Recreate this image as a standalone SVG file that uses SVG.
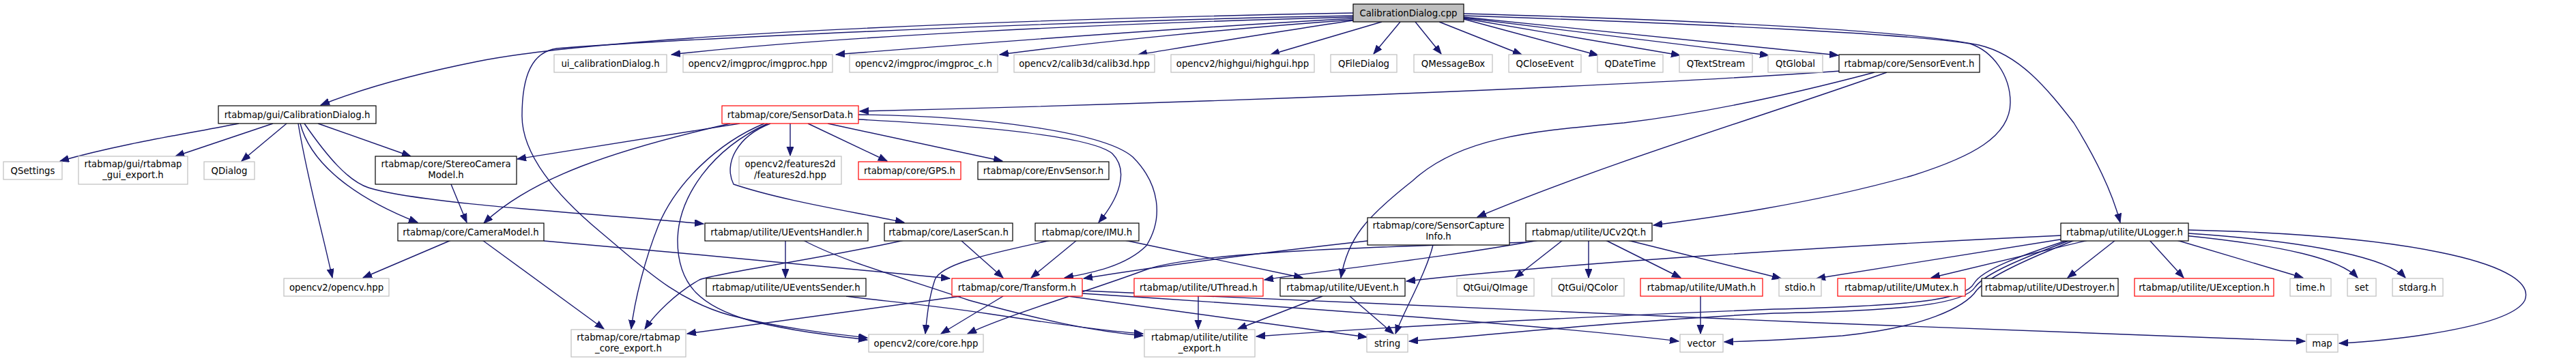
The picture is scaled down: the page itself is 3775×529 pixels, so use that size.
<svg xmlns="http://www.w3.org/2000/svg" width="3775" height="529" viewBox="0 0 3775 529">
<style>
rect{fill:#fff;stroke-width:1.2}
.g rect{stroke:#bfbfbf}
.b rect{stroke:#000}
.r rect{stroke:#ff0000}
.root rect{fill:#bfbfbf;stroke:#000}
text{font-family:"DejaVu Sans","Liberation Sans",sans-serif;font-size:13.3px;text-anchor:middle;fill:#000}
#edges path{fill:none;stroke:#191970;stroke-width:1.4;marker-end:url(#ah)}
</style>
<defs>
<marker id="ah" markerUnits="userSpaceOnUse" markerWidth="14" markerHeight="11" refX="13" refY="5" orient="auto">
<path d="M0,0 L13,5 L0,10 z" fill="#191970" stroke="#191970" stroke-width="1"/>
</marker>
</defs>
<rect x="0" y="0" width="3775" height="529" style="fill:#fff;stroke:none"/>
<g id="edges">
<path d="M1983,19 C1500,28 900,50 700,90 C600,110 530,130 470,154"/>
<path d="M1983,23 C1500,32 950,60 816,71 C780,76 765,110 765,170 C765,230 820,290 880,340 C940,390 990,440 1070,462 C1140,480 1210,488 1271,495"/>
<path d="M1983,25 C1600,35 1200,55 984,80"/>
<path d="M1983,27 C1750,40 1450,62 1225,80"/>
<path d="M1983,29 C1800,42 1600,62 1465,80"/>
<path d="M1983,30 C1880,45 1760,65 1668,80"/>
<path d="M2025,32 L1862,80"/>
<path d="M2052,32 L2013,79"/>
<path d="M2074,32 L2112,79"/>
<path d="M2109,32 L2230,80"/>
<path d="M2145,28 L2342,81"/>
<path d="M2145,27 L2462,81"/>
<path d="M2145,26 L2592,81"/>
<path d="M2145,25 L2694,81"/>
<path d="M2145,23 C2500,35 2800,50 2887,64 C2920,75 2946,110 2946,150 C2946,200 2890,230 2800,258 C2650,300 2500,320 2423,330"/>
<path d="M2145,20 C2500,30 2800,45 2900,66 C2960,80 3000,130 3039,180 C3070,230 3095,280 3107,326"/>
<path d="M350,181 C280,195 180,210 88,236"/>
<path d="M400,181 L257,229"/>
<path d="M420,181 L354,236"/>
<path d="M466,181 L602,229"/>
<path d="M440,181 C455,240 520,290 612,326"/>
<path d="M446,181 C480,230 510,265 540,275 C620,300 900,315 1031,328"/>
<path d="M437,181 C450,260 470,330 487,407"/>
<path d="M661,270 L684,326"/>
<path d="M1084,181 L758,233"/>
<path d="M1070,181 C900,220 780,260 709,327"/>
<path d="M1158,181 L1158,228"/>
<path d="M1184,181 L1300,236"/>
<path d="M1213,181 L1469,236"/>
<path d="M1129,181 C1080,200 1060,240 1075,270 C1150,295 1250,310 1325,326"/>
<path d="M1120,181 C1050,210 990,270 965,330 C945,380 930,440 925,482"/>
<path d="M1125,181 C1040,220 995,290 993,350 C992,420 1030,450 1100,470 C1160,485 1220,492 1271,498"/>
<path d="M1258,175 C1450,185 1600,200 1630,225 C1655,250 1640,290 1610,326"/>
<path d="M1258,168 C1450,170 1620,195 1660,230 C1700,270 1705,320 1680,360 C1650,390 1600,400 1560,407"/>
<path d="M2697,104 C2400,125 1800,150 1260,163"/>
<path d="M2765,106 C2600,165 2350,240 2165,318"/>
<path d="M2747,106 C2600,145 2480,168 2380,180 C2250,192 2140,200 2070,265 C2000,320 1975,350 1965,407"/>
<path d="M661,352 L532,407"/>
<path d="M707,352 L885,482"/>
<path d="M797,353 C1000,370 1250,395 1392,408"/>
<path d="M1151,352 L1151,407"/>
<path d="M1177,352 C1230,380 1300,400 1420,440 C1530,470 1600,485 1675,492"/>
<path d="M1240,434 C1280,440 1350,445 1450,460 C1550,475 1620,485 1675,489"/>
<path d="M1408,352 L1470,407"/>
<path d="M1325,352 C1200,380 1050,400 1025,410 C990,430 960,460 945,482"/>
<path d="M1578,352 L1511,407"/>
<path d="M1540,352 C1460,370 1380,385 1370,410 C1360,440 1358,470 1356,489"/>
<path d="M1648,352 L1909,407"/>
<path d="M2004,353 C1850,370 1700,390 1588,408"/>
<path d="M2100,359 C2090,400 2060,450 2045,489"/>
<path d="M2255,352 C2100,380 1950,395 1853,410"/>
<path d="M2237,355 C2000,362 1750,370 1680,395 C1600,425 1480,460 1418,489"/>
<path d="M2290,352 L2220,407"/>
<path d="M2328,352 L2328,407"/>
<path d="M2353,352 L2463,407"/>
<path d="M2385,352 L2610,408"/>
<path d="M2492,434 L2492,489"/>
<path d="M1756,434 L1756,482"/>
<path d="M1938,434 L1814,482"/>
<path d="M1978,434 L2042,489"/>
<path d="M1470,434 L1379,489"/>
<path d="M1408,434 C1300,450 1100,475 1007,489"/>
<path d="M1565,434 L2003,494"/>
<path d="M1586,430 C1900,450 2300,480 2460,500"/>
<path d="M1586,426 C2100,450 2800,480 3378,500"/>
<path d="M3022,345 C2700,360 2300,385 2061,412"/>
<path d="M3025,350 L2662,408"/>
<path d="M3060,352 L2830,407"/>
<path d="M3100,352 L3030,407"/>
<path d="M3150,352 L3200,407"/>
<path d="M3190,352 L3375,407"/>
<path d="M3200,345 C3350,360 3430,380 3455,407"/>
<path d="M3207,342 C3400,355 3500,380 3525,407"/>
<path d="M3207,337 C3550,345 3720,390 3700,440 C3680,480 3500,500 3428,503"/>
<path d="M3030,352 C2960,375 2905,395 2893,415 C2880,440 2800,448 2600,453 C2300,465 2050,478 1841,493"/>
<path d="M3034,352 C2965,378 2910,400 2895,420 C2880,445 2800,455 2600,459 C2350,472 2200,490 2065,500"/>
<path d="M3040,352 C2970,380 2915,405 2897,425 C2880,450 2820,480 2700,492 C2620,498 2570,500 2527,501"/>
</g>
<g id="n_cpp" class="root"><rect x="1983" y="6" width="162" height="26"/><text x="2064" y="23.5">CalibrationDialog.cpp</text></g>
<g id="n_ui" class="g"><rect x="812" y="80" width="165" height="26"/><text x="894.5" y="97.5">ui_calibrationDialog.h</text></g>
<g id="n_imgproc" class="g"><rect x="1001" y="80" width="219" height="26"/><text x="1110.5" y="97.5">opencv2/imgproc/imgproc.hpp</text></g>
<g id="n_imgproc_c" class="g"><rect x="1245" y="80" width="217" height="26"/><text x="1353.5" y="97.5">opencv2/imgproc/imgproc_c.h</text></g>
<g id="n_calib3d" class="g"><rect x="1486" y="80" width="206" height="26"/><text x="1589" y="97.5">opencv2/calib3d/calib3d.hpp</text></g>
<g id="n_highgui" class="g"><rect x="1716" y="80" width="210" height="26"/><text x="1821" y="97.5">opencv2/highgui/highgui.hpp</text></g>
<g id="n_qfiledialog" class="g"><rect x="1950" y="80" width="97" height="26"/><text x="1998.5" y="97.5">QFileDialog</text></g>
<g id="n_qmessagebox" class="g"><rect x="2072" y="80" width="115" height="26"/><text x="2129.5" y="97.5">QMessageBox</text></g>
<g id="n_qcloseevent" class="g"><rect x="2211" y="80" width="106" height="26"/><text x="2264" y="97.5">QCloseEvent</text></g>
<g id="n_qdatetime" class="g"><rect x="2341" y="80" width="96" height="26"/><text x="2389" y="97.5">QDateTime</text></g>
<g id="n_qtextstream" class="g"><rect x="2461" y="80" width="107" height="26"/><text x="2514.5" y="97.5">QTextStream</text></g>
<g id="n_qtglobal" class="g"><rect x="2591" y="80" width="80" height="26"/><text x="2631" y="97.5">QtGlobal</text></g>
<g id="n_sensorevent" class="b"><rect x="2695" y="80" width="206" height="26"/><text x="2798" y="97.5">rtabmap/core/SensorEvent.h</text></g>
<g id="n_calibh" class="b"><rect x="320" y="155" width="231" height="26"/><text x="435.5" y="172.5">rtabmap/gui/CalibrationDialog.h</text></g>
<g id="n_sensordata" class="r"><rect x="1058" y="155" width="200" height="26"/><text x="1158" y="172.5">rtabmap/core/SensorData.h</text></g>
<g id="n_qsettings" class="g"><rect x="5" y="237" width="86" height="26"/><text x="48" y="254.5">QSettings</text></g>
<g id="n_guiexport" class="g"><rect x="115" y="229" width="160" height="41"/><text x="195" y="245">rtabmap/gui/rtabmap</text><text x="195" y="261">_gui_export.h</text></g>
<g id="n_qdialog" class="g"><rect x="299" y="237" width="74" height="26"/><text x="336" y="254.5">QDialog</text></g>
<g id="n_stereo" class="b"><rect x="550" y="229" width="207" height="41"/><text x="653.5" y="245">rtabmap/core/StereoCamera</text><text x="653.5" y="261">Model.h</text></g>
<g id="n_features2d" class="g"><rect x="1083" y="229" width="150" height="41"/><text x="1158" y="245">opencv2/features2d</text><text x="1158" y="261">/features2d.hpp</text></g>
<g id="n_gps" class="r"><rect x="1258" y="237" width="150" height="26"/><text x="1333" y="254.5">rtabmap/core/GPS.h</text></g>
<g id="n_envsensor" class="b"><rect x="1433" y="237" width="192" height="26"/><text x="1529" y="254.5">rtabmap/core/EnvSensor.h</text></g>
<g id="n_cameramodel" class="b"><rect x="583" y="327" width="214" height="26"/><text x="690" y="344.5">rtabmap/core/CameraModel.h</text></g>
<g id="n_ueventshandler" class="b"><rect x="1033" y="327" width="239" height="26"/><text x="1152.5" y="344.5">rtabmap/utilite/UEventsHandler.h</text></g>
<g id="n_laserscan" class="b"><rect x="1296" y="327" width="188" height="26"/><text x="1390" y="344.5">rtabmap/core/LaserScan.h</text></g>
<g id="n_imu" class="b"><rect x="1517" y="327" width="152" height="26"/><text x="1593" y="344.5">rtabmap/core/IMU.h</text></g>
<g id="n_sensorcaptureinfo" class="b"><rect x="2004" y="319" width="208" height="40"/><text x="2108" y="335">rtabmap/core/SensorCapture</text><text x="2108" y="351">Info.h</text></g>
<g id="n_ucv2qt" class="b"><rect x="2236" y="327" width="185" height="26"/><text x="2328.5" y="344.5">rtabmap/utilite/UCv2Qt.h</text></g>
<g id="n_ulogger" class="b"><rect x="3020" y="327" width="187" height="26"/><text x="3113.5" y="344.5">rtabmap/utilite/ULogger.h</text></g>
<g id="n_opencvhpp" class="g"><rect x="416" y="408" width="154" height="26"/><text x="493" y="425.5">opencv2/opencv.hpp</text></g>
<g id="n_ueventssender" class="b"><rect x="1035" y="408" width="234" height="26"/><text x="1152" y="425.5">rtabmap/utilite/UEventsSender.h</text></g>
<g id="n_transform" class="r"><rect x="1395" y="408" width="191" height="26"/><text x="1490.5" y="425.5">rtabmap/core/Transform.h</text></g>
<g id="n_uthread" class="r"><rect x="1662" y="408" width="189" height="26"/><text x="1756.5" y="425.5">rtabmap/utilite/UThread.h</text></g>
<g id="n_uevent" class="b"><rect x="1876" y="408" width="183" height="26"/><text x="1967.5" y="425.5">rtabmap/utilite/UEvent.h</text></g>
<g id="n_qimage" class="g"><rect x="2135" y="408" width="113" height="26"/><text x="2191.5" y="425.5">QtGui/QImage</text></g>
<g id="n_qcolor" class="g"><rect x="2274" y="408" width="106" height="26"/><text x="2327" y="425.5">QtGui/QColor</text></g>
<g id="n_umath" class="r"><rect x="2404" y="408" width="179" height="26"/><text x="2493.5" y="425.5">rtabmap/utilite/UMath.h</text></g>
<g id="n_stdio" class="g"><rect x="2607" y="408" width="62" height="26"/><text x="2638" y="425.5">stdio.h</text></g>
<g id="n_umutex" class="r"><rect x="2693" y="408" width="187" height="26"/><text x="2786.5" y="425.5">rtabmap/utilite/UMutex.h</text></g>
<g id="n_udestroyer" class="b"><rect x="2904" y="408" width="200" height="26"/><text x="3004" y="425.5">rtabmap/utilite/UDestroyer.h</text></g>
<g id="n_uexception" class="r"><rect x="3128" y="408" width="204" height="26"/><text x="3230" y="425.5">rtabmap/utilite/UException.h</text></g>
<g id="n_time" class="g"><rect x="3356" y="408" width="60" height="26"/><text x="3386" y="425.5">time.h</text></g>
<g id="n_set" class="g"><rect x="3440" y="408" width="42" height="26"/><text x="3461" y="425.5">set</text></g>
<g id="n_stdarg" class="g"><rect x="3506" y="408" width="74" height="26"/><text x="3543" y="425.5">stdarg.h</text></g>
<g id="n_coreexport" class="g"><rect x="837" y="483" width="168" height="40"/><text x="921" y="499">rtabmap/core/rtabmap</text><text x="921" y="515">_core_export.h</text></g>
<g id="n_corehpp" class="g"><rect x="1273" y="490" width="168" height="26"/><text x="1357" y="507.5">opencv2/core/core.hpp</text></g>
<g id="n_utilexport" class="g"><rect x="1677" y="483" width="162" height="40"/><text x="1758" y="499">rtabmap/utilite/utilite</text><text x="1758" y="515">_export.h</text></g>
<g id="n_string" class="g"><rect x="2003" y="490" width="60" height="26"/><text x="2033" y="507.5">string</text></g>
<g id="n_vector" class="g"><rect x="2462" y="490" width="63" height="26"/><text x="2493.5" y="507.5">vector</text></g>
<g id="n_map" class="g"><rect x="3380" y="490" width="46" height="26"/><text x="3403" y="507.5">map</text></g>
</svg>
